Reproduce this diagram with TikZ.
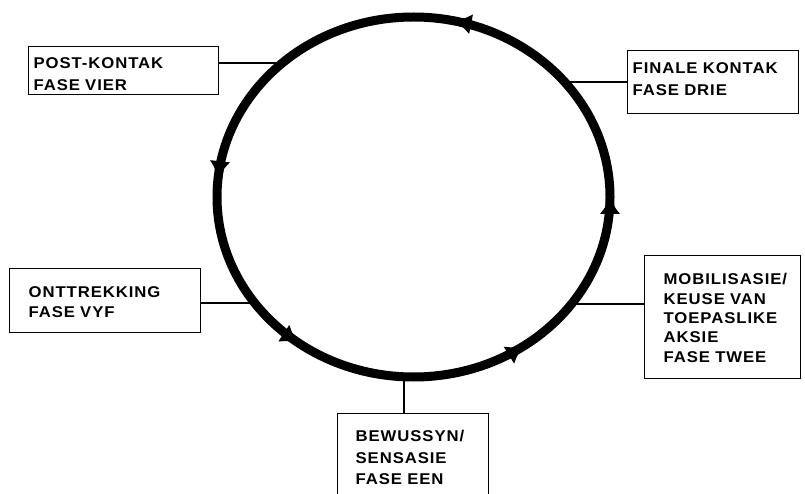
\documentclass[tikz,border=0pt]{standalone}
\usepackage{fontspec}
\setmainfont{Liberation Sans}
\newfontfamily\phasefam[FakeStretch=1.07, LetterSpace=6, WordSpace=1.5]{Liberation Sans}
\usepackage{tikz}
\usetikzlibrary{calc, arrows.meta}
\hyphenpenalty=10000

\tikzset{
    phase/.style={draw, line width=1.3pt, anchor=north west, inner ysep=0pt, align=left,
        font={\phasefam\bfseries\fontsize{15.6}{#1}\selectfont}},
    phase/.default=22,
    link/.style={line width=1.3pt},
    ring/.style={line width=9pt}
}

\begin{document}
\begin{tikzpicture}[x=1pt, y=1pt]
    \clip (0,0) rectangle (805,493);
    \coordinate (ctr) at (413.5,296);

    % Fases
    \node[phase, inner xsep=5pt, text width=180pt, text height=22.2pt, text depth=25.8pt]
        (vier) at (28,447) {POST-KONTAK\\FASE VIER};
    \node[phase, inner xsep=5pt, text width=161pt, text height=23.2pt, text depth=39.8pt]
        (drie) at (627,443) {FINALE KONTAK\\FASE DRIE};
    \node[phase=20, inner xsep=19pt, text width=153pt, text height=29pt, text depth=35pt]
        (vyf) at (9,225) {ONTTREKKING\\FASE VYF};
    \node[phase=19.3, inner xsep=19pt, text width=118pt, text height=29.2pt, text depth=93.8pt]
        (twee) at (644,238) {MOBILISASIE/\\KEUSE VAN\\TOEPASLIKE\\AKSIE\\FASE TWEE};
    \node[phase=21.5, inner xsep=18pt, text width=115pt, text height=28.2pt, text depth=63.8pt]
        (een) at (337,80) {BEWUSSYN/\\SENSASIE\\FASE EEN};

    % Punte op die sirkel
    \coordinate (p1) at ([shift={(267.2:196.5 and 180)}]ctr);
    \coordinate (p2) at ([shift={(323.5:196.5 and 180)}]ctr);
    \coordinate (p3) at ([shift={(39.7:196.5 and 180)}]ctr);
    \coordinate (p4) at ([shift={(131.9:196.5 and 180)}]ctr);
    \coordinate (p5) at ([shift={(216.1:196.5 and 180)}]ctr);

    \draw[link] (p1) -- (p1 |- een.north);
    \draw[link] (p2) -- (p2 -| twee.west);
    \draw[link] (p3) -- (p3 -| drie.west);
    \draw[link] (p4) -- (p4 -| vier.east);
    \draw[link] (p5) -- (p5 -| vyf.east);

    % Sirkel met pyle
    \draw[ring] (ctr) ellipse [x radius=196.5, y radius=180];
    \foreach \a in {-56,0,78,174,234} {
        \draw[ring, -{Latex[length=17pt,width=21pt]}]
            ([shift={({\a-5}:196.5 and 180)}]ctr)
            arc[start angle={\a-5}, end angle=\a, x radius=196.5, y radius=180];
    }
\end{tikzpicture}
\end{document}
